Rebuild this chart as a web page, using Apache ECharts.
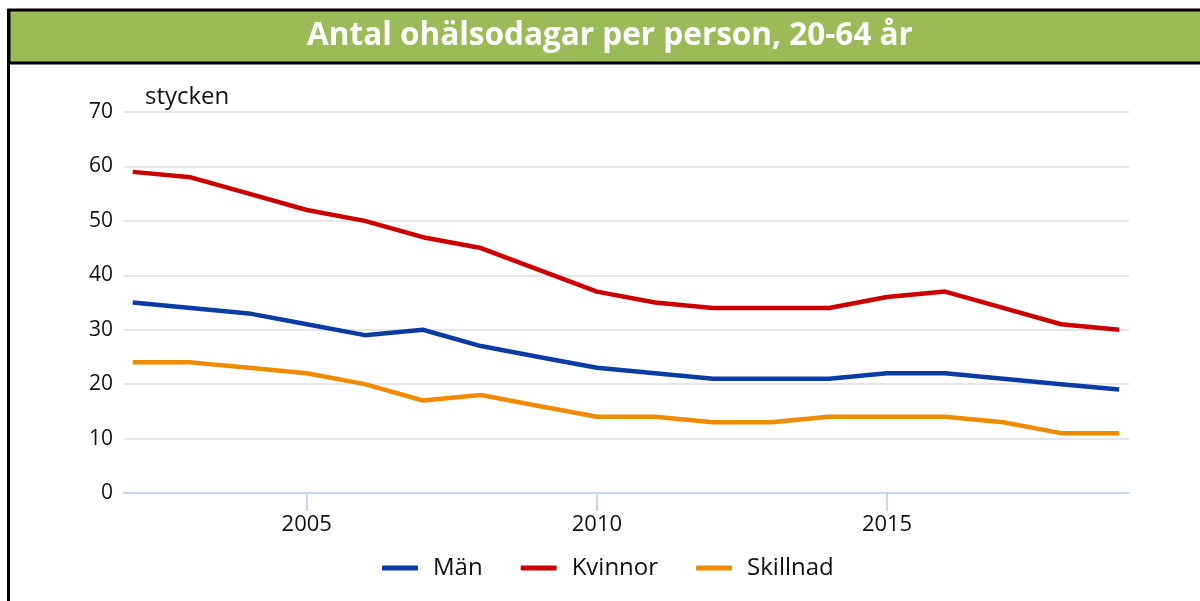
<!DOCTYPE html>
<html>
<head>
<meta charset="utf-8">
<script src="https://cdn.jsdelivr.net/npm/echarts@6/dist/echarts.min.js"></script>
<style>
html,body{margin:0;padding:0;background:#fff;}
#c{width:1200px;height:601px;}
</style>
</head>
<body>
<div id="c"></div>
<script>
const years = [2002,2003,2004,2005,2006,2007,2008,2009,2010,2011,2012,2013,2014,2015,2016,2017,2018,2019];
const man = [35,34,33,31,29,30,27,25,23,22,21,21,21,22,22,21,20,19];
const kvinnor = [59,58,55,52,50,47,45,41,37,35,34,34,34,36,37,34,31,30];
const skillnad = [24,24,23,22,20,17,18,16,14,14,13,13,14,14,14,13,11,11];
const xTicks = [2005,2010,2015];
const titleText = 'Antal ohälsodagar per person, 20-64 år';
const unitText = 'stycken';

const pairs = arr => years.map((y,i)=>[y,arr[i]]);
const font = '"Open Sans", sans-serif';
const chart = echarts.init(document.getElementById('c'));
chart.setOption({
  animation:false,
  backgroundColor:'#fff',
  graphic:[
    {type:'rect',shape:{x:9,y:10,width:1195,height:53},style:{fill:'#9BBB59',stroke:'#000',lineWidth:3},z:0},
    {type:'line',shape:{x1:8.5,y1:9,x2:8.5,y2:601},style:{stroke:'#000',lineWidth:3}},
    {type:'text',x:610,y:36,style:{text:titleText,fill:'#fff',font:'bold 31.5px "Open Sans", sans-serif',align:'center',verticalAlign:'middle'}},
    {type:'text',x:145,y:97,style:{text:unitText,fill:'#111',font:'24px "Open Sans", sans-serif',align:'left',verticalAlign:'middle'}}
  ],
  grid:{left:124,right:71,top:112,bottom:108,containLabel:false},
  xAxis:{
    type:'value',min:2001.85,max:2019.17,
    axisLine:{show:true,lineStyle:{color:'#ccd6eb',width:2}},
    axisTick:{show:true,customValues:xTicks,length:18,lineStyle:{color:'#ccd6eb',width:2}},
    axisLabel:{customValues:xTicks,margin:21,color:'#111',fontSize:22,fontFamily:font,formatter:v=>String(v)},
    splitLine:{show:false}
  },
  yAxis:{
    type:'value',min:0,max:70,interval:10,
    axisLine:{show:false},axisTick:{show:false},
    axisLabel:{margin:11,color:'#111',fontSize:21,fontFamily:font},
    splitLine:{lineStyle:{color:'#e6e6e6',width:2}}
  },
  legend:{
    top:551,left:377,itemWidth:36,itemHeight:5,icon:'roundRect',itemGap:38,
    textStyle:{fontSize:24,fontFamily:font,color:'#111',padding:[0,0,0,10]},
    data:['Män','Kvinnor','Skillnad']
  },
  series:[
    {name:'Män',type:'line',data:pairs(man),symbol:'none',lineStyle:{width:4.5,color:'#0a3ca3'},itemStyle:{color:'#0a3ca3'}},
    {name:'Kvinnor',type:'line',data:pairs(kvinnor),symbol:'none',lineStyle:{width:4.5,color:'#cc0000'},itemStyle:{color:'#cc0000'}},
    {name:'Skillnad',type:'line',data:pairs(skillnad),symbol:'none',lineStyle:{width:4.5,color:'#f08a00'},itemStyle:{color:'#f08a00'}}
  ]
});
</script>
</body>
</html>
